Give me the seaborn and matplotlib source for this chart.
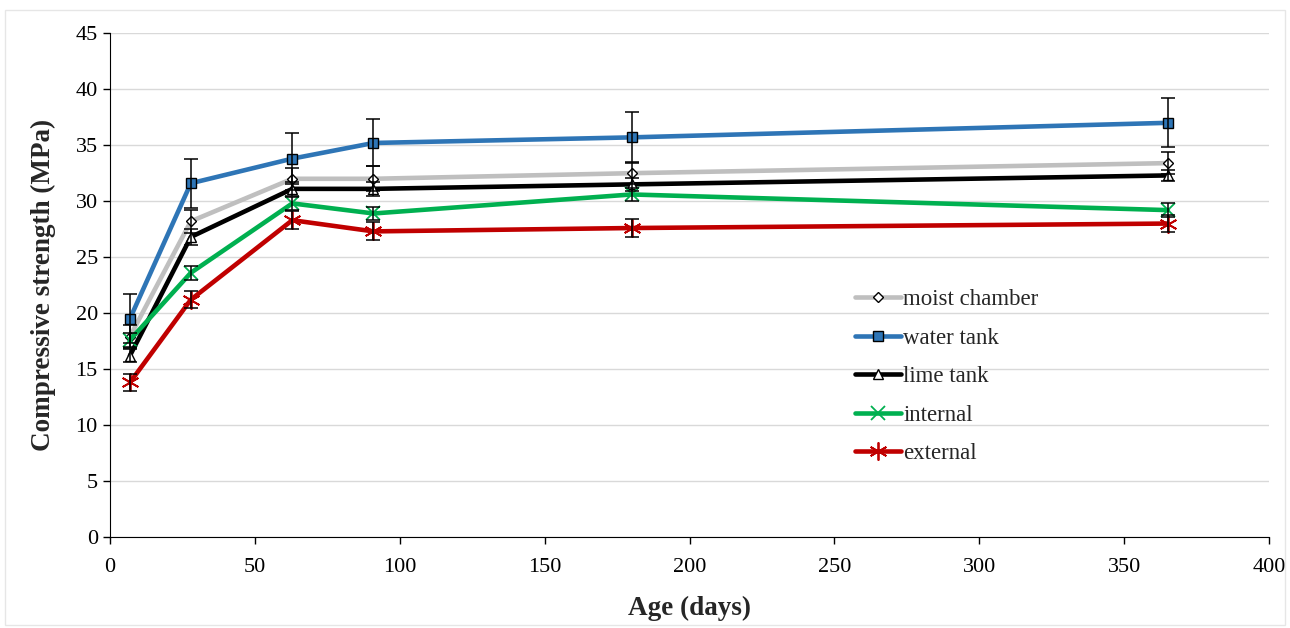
import numpy as np
import pandas as pd
import matplotlib
matplotlib.use('Agg')
import matplotlib.pyplot as plt
import seaborn as sns

sns.set_style('white')
plt.rcParams['font.family'] = ['Liberation Serif', 'DejaVu Serif']

# ------------------------------------------------------------
# data
# ------------------------------------------------------------
age = [7, 28, 63, 91, 180, 365]

moist = [17.9, 28.2, 32.0, 32.0, 32.5, 33.4]
water = [19.5, 31.6, 33.8, 35.2, 35.7, 37.0]
lime = [16.2, 26.8, 31.1, 31.1, 31.5, 32.3]
internal = [17.6, 23.6, 29.8, 28.9, 30.6, 29.2]
external = [13.8, 21.2, 28.3, 27.3, 27.6, 28.0]

moist_err = [1.0, 1.0, 1.0, 1.1, 1.0, 1.0]
water_err = [2.2, 2.2, 2.3, 2.1, 2.3, 2.2]
lime_err = [0.6, 0.7, 0.6, 0.6, 0.6, 0.5]
internal_err = [0.6, 0.6, 0.6, 0.6, 0.6, 0.6]
external_err = [0.8, 0.75, 0.8, 0.8, 0.8, 0.75]

labels = ['moist chamber', 'water tank', 'lime tank', 'internal', 'external']

df = pd.DataFrame({
    'age': age * 5,
    'strength': moist + water + lime + internal + external,
    'err': moist_err + water_err + lime_err + internal_err + external_err,
    'curing': np.repeat(labels, len(age)),
})

styles = {
    'moist chamber': dict(color='#BFBFBF', marker='D', ms=5, mfc='white', mec='black', mew=1.0),
    'water tank': dict(color='#2E75B6', marker='s', ms=7, mfc='#2E75B6', mec='black', mew=1.0),
    'lime tank': dict(color='black', marker='^', ms=7, mfc='white', mec='black', mew=1.0),
    'internal': dict(color='#00B050', marker='x', ms=10, mfc='none', mec='#00B050', mew=1.3),
    'external': dict(color='#C00000', marker=(6, 2, 0), ms=13, mfc='none', mec='#C00000', mew=1.3),
}

fig, ax = plt.subplots(figsize=(12.9, 6.28), dpi=100)
fig.subplots_adjust(left=0.085, right=0.984, top=0.947, bottom=0.145)

for name in labels:
    sub = df[df['curing'] == name]
    st = styles[name]
    ax.errorbar(sub['age'], sub['strength'], yerr=sub['err'], fmt='none',
                ecolor='black', elinewidth=1.1, capsize=5, capthick=1.1, zorder=3)
    sns.lineplot(data=sub, x='age', y='strength', ax=ax, label=name,
                 color=st['color'], lw=3.3, marker=st['marker'], ms=st['ms'],
                 markerfacecolor=st['mfc'], markeredgecolor=st['mec'],
                 markeredgewidth=st['mew'], zorder=2)

ax.set_xlim(0, 400)
ax.set_ylim(0, 45)
ax.set_xticks(np.arange(0, 401, 50))
ax.set_yticks(np.arange(0, 46, 5))
ax.grid(axis='y', color='#D9D9D9', lw=1.0)
ax.grid(axis='x', visible=False)
sns.despine(ax=ax)
ax.spines['left'].set_color('black')
ax.spines['bottom'].set_color('black')
ax.tick_params(axis='both', direction='out', length=5, width=1, colors='black',
               labelsize=16, left=True, bottom=True)
ax.tick_params(axis='x', pad=10)

ax.set_xlabel('Age (days)', fontsize=19.5, fontweight='bold', labelpad=14)
ax.set_ylabel('Compressive strength (MPa)', fontsize=19.5, fontweight='bold', labelpad=14)

ax.legend(loc='upper left', bbox_to_anchor=(0.635, 0.51), frameon=False,
          fontsize=16.5, handlelength=2.0, handletextpad=0.1, labelspacing=0.76,
          borderaxespad=0)

fig.patches.append(plt.Rectangle((0.004, 0.004), 0.992, 0.98, transform=fig.transFigure,
                                 fill=False, edgecolor='#E6E6E6', lw=1))

plt.savefig('out.png', dpi=100)
plt.close()
